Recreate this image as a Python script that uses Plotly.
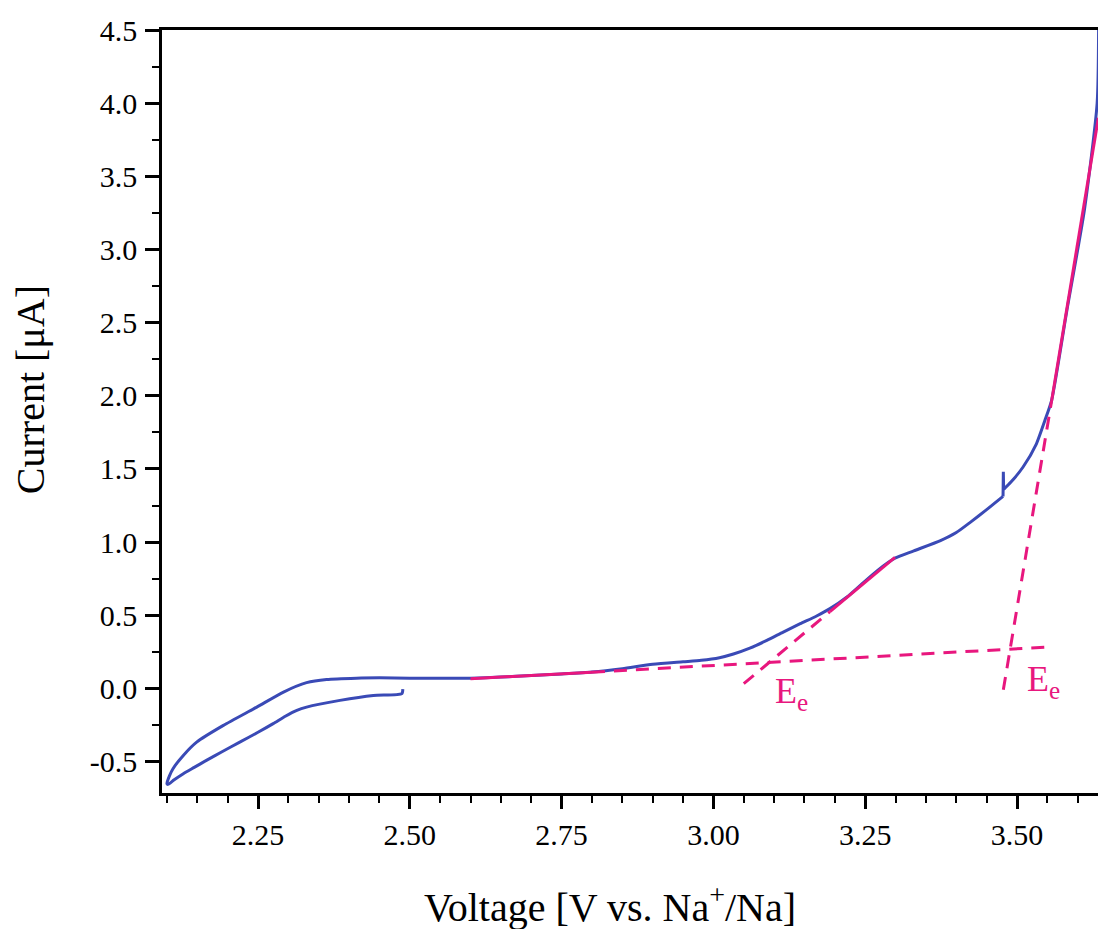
import plotly.graph_objects as go

# ---- cyclic voltammogram (blue) ----
# scan 1: from the rest potential down to the lower vertex and back up
cv_voltage = [
    2.4885, 2.487, 2.440, 2.385, 2.330, 2.314, 2.295, 2.275, 2.250, 2.220,
    2.190, 2.165, 2.145, 2.127, 2.112, 2.102, 2.100,
    2.104, 2.110, 2.127, 2.149, 2.193, 2.248, 2.292, 2.330, 2.363, 2.412,
    2.450, 2.500, 2.550, 2.600, 2.650, 2.700, 2.750, 2.800, 2.850, 2.900,
    2.950, 2.980, 3.010, 3.033, 3.060, 3.088, 3.115, 3.143, 3.170, 3.192,
    3.220, 3.245, 3.270, 3.299, 3.330, 3.374, 3.400, 3.423, 3.450, 3.477,
]
cv_current = [
    -0.005, -0.035, -0.048, -0.082, -0.128, -0.150, -0.190, -0.241, -0.300, -0.367,
    -0.435, -0.492, -0.540, -0.583, -0.625, -0.656, -0.652,
    -0.600, -0.549, -0.458, -0.367, -0.253, -0.128, -0.025, 0.039, 0.061, 0.070,
    0.072, 0.070, 0.069, 0.070, 0.077, 0.088, 0.099, 0.112, 0.135, 0.165,
    0.182, 0.192, 0.210, 0.235, 0.275, 0.328, 0.385, 0.442, 0.495, 0.545,
    0.625, 0.716, 0.805, 0.890, 0.940, 1.010, 1.065, 1.135, 1.222, 1.312,
]
# short current spike near 3.48 V
spike_voltage = [3.477, 3.4775, 3.478]
spike_current = [1.312, 1.480, 1.360]
# steep oxidation branch after the spike
ox_voltage = [3.478, 3.490, 3.510, 3.532, 3.546, 3.557, 3.582, 3.611, 3.632, 3.6345]
ox_current = [1.360, 1.410, 1.513, 1.672, 1.832, 1.969, 2.580, 3.270, 4.000, 4.600]

# ---- tangent construction lines (pink) ----
# baseline: solid where it follows the curve, dashed beyond
base_solid_v = [2.600, 2.800]
base_solid_i = [0.066, 0.111]
base_dash_v = [2.800, 3.549]
base_dash_i = [0.111, 0.282]

# first onset tangent
tan1_dash_v = [3.050, 3.192]
tan1_dash_i = [0.032, 0.525]
tan1_solid_v = [3.192, 3.299]
tan1_solid_i = [0.525, 0.896]

# second onset tangent
tan2_dash_v = [3.4775, 3.557]
tan2_dash_i = [-0.010, 1.965]
tan2_solid_v = [3.557, 3.634]
tan2_solid_i = [1.965, 3.900]

# onset labels
label_v = [3.098, 3.513]
label_i = [-0.035, 0.045]

# axis ticks
x_tickvals = [2.25, 2.50, 2.75, 3.00, 3.25, 3.50]
x_ticktext = ["2.25", "2.50", "2.75", "3.00", "3.25", "3.50"]
y_tickvals = [-0.5, 0.0, 0.5, 1.0, 1.5, 2.0, 2.5, 3.0, 3.5, 4.0, 4.5]
y_ticktext = ["-0.5", "0.0", "0.5", "1.0", "1.5", "2.0", "2.5", "3.0", "3.5", "4.0", "4.5"]

BLUE = "#3A4AB6"
PINK = "#E8177E"
FONT = "Liberation Serif"
DASH = "13px,9px"

fig = go.Figure()

fig.add_trace(go.Scatter(x=cv_voltage, y=cv_current, mode="lines",
                         line=dict(color=BLUE, width=3, shape="spline", smoothing=0.6)))
fig.add_trace(go.Scatter(x=spike_voltage, y=spike_current, mode="lines",
                         line=dict(color=BLUE, width=3)))
fig.add_trace(go.Scatter(x=ox_voltage, y=ox_current, mode="lines",
                         line=dict(color=BLUE, width=3, shape="spline", smoothing=0.6)))

for xs, ys, dash in [
    (base_solid_v, base_solid_i, "solid"),
    (base_dash_v, base_dash_i, DASH),
    (tan1_dash_v, tan1_dash_i, DASH),
    (tan1_solid_v, tan1_solid_i, "solid"),
    (tan2_dash_v, tan2_dash_i, DASH),
    (tan2_solid_v, tan2_solid_i, "solid"),
]:
    fig.add_trace(go.Scatter(x=xs, y=ys, mode="lines",
                             line=dict(color=PINK, width=3, dash=dash)))

for v, i in zip(label_v, label_i):
    fig.add_annotation(x=v, y=i, xref="x", yref="y", text="E<sub>e</sub>",
                       showarrow=False, xanchor="left", yanchor="middle",
                       font=dict(family=FONT, size=36, color=PINK))

# axis titles
fig.add_annotation(x=-0.141, y=0.528, xref="paper", yref="paper",
                   text="Current [μA]", textangle=-90, showarrow=False,
                   xanchor="center", yanchor="middle",
                   font=dict(family=FONT, size=40, color="black"))
fig.add_annotation(x=0.4786, y=-0.1455, xref="paper", yref="paper",
                   text="Voltage [V vs. Na<sup>+</sup>/Na]", showarrow=False,
                   xanchor="center", yanchor="middle",
                   font=dict(family=FONT, size=40, color="black"))

fig.update_xaxes(
    range=[2.0919, 3.6334], showgrid=False, zeroline=False,
    showline=True, linecolor="black", linewidth=2.5, mirror=True,
    tickmode="array", tickvals=x_tickvals, ticktext=x_ticktext,
    ticks="outside", ticklen=13, tickwidth=2.5, tickcolor="black",
    ticklabelstandoff=0,
    tickfont=dict(family=FONT, size=30, color="black"),
    minor=dict(ticks="outside", ticklen=7, tickwidth=2, tickcolor="black",
               tickmode="linear", tick0=2.25, dtick=0.05),
)
fig.update_yaxes(
    range=[-0.715, 4.5], showgrid=False, zeroline=False,
    showline=True, linecolor="black", linewidth=2.5,
    tickmode="array", tickvals=y_tickvals, ticktext=y_ticktext,
    ticks="outside", ticklen=14, tickwidth=2.5, tickcolor="black",
    ticklabelstandoff=2,
    tickfont=dict(family=FONT, size=30, color="black"),
    minor=dict(ticks="outside", ticklen=7, tickwidth=2, tickcolor="black",
               tickmode="linear", tick0=0, dtick=0.25),
)

fig.update_layout(
    width=1098, height=929,
    margin=dict(l=162, r=0, t=30, b=136),
    font=dict(family=FONT, color="black"),
    paper_bgcolor="white", plot_bgcolor="white",
    showlegend=False,
)

fig.write_html("out.html")
